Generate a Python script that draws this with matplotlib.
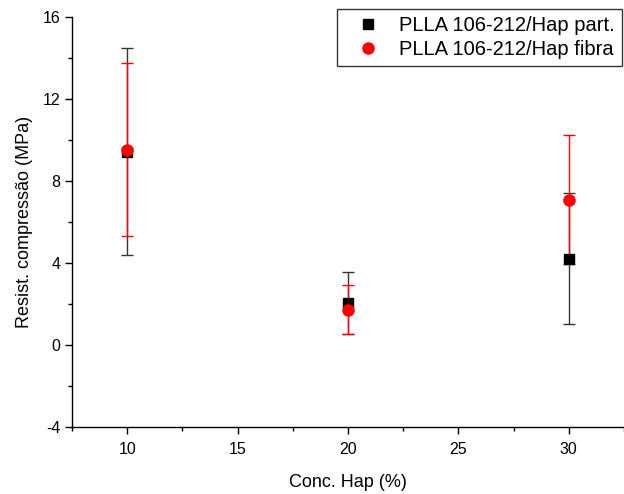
import matplotlib
matplotlib.use("Agg")
import matplotlib.pyplot as plt
from matplotlib.ticker import MultipleLocator

plt.rcParams['font.family'] = ['Liberation Sans', 'DejaVu Sans']
plt.rcParams['axes.unicode_minus'] = False

conc = [10, 20, 30]

# Hap particulada
part_mean = [9.43, 2.04, 4.21]
part_err = [5.04, 1.52, 3.20]

# Hap em fibra
fibra_mean = [9.53, 1.73, 7.09]
fibra_err = [4.23, 1.20, 3.15]

fig = plt.figure(figsize=(6.24, 4.94), dpi=100)
ax = fig.add_axes([0.1154, 0.1356, 0.8846, 0.83])

ax.errorbar(conc, part_mean, yerr=part_err, fmt='s', color='black', ecolor='#333333',
            markersize=7, elinewidth=1.0, capsize=4, capthick=1.0,
            label='PLLA 106-212/Hap part.')
ax.errorbar(conc, fibra_mean, yerr=fibra_err, fmt='o', color='red', ecolor='red',
            markersize=8, elinewidth=1.0, capsize=4, capthick=1.0,
            label='PLLA 106-212/Hap fibra')

ax.set_xlim(7.5, 32.5)
ax.set_ylim(-4, 16)
ax.xaxis.set_major_locator(MultipleLocator(5))
ax.xaxis.set_minor_locator(MultipleLocator(2.5))
ax.yaxis.set_major_locator(MultipleLocator(4))
ax.yaxis.set_minor_locator(MultipleLocator(2))

ax.spines['top'].set_visible(False)
ax.spines['right'].set_visible(False)
for s in ('left', 'bottom'):
    ax.spines[s].set_linewidth(1.0)

ax.tick_params(which='major', direction='out', length=5, width=1.0, labelsize=11.5)
ax.tick_params(axis='x', which='major', pad=6)
ax.tick_params(which='minor', direction='out', length=3, width=1.0)

ax.set_xlabel('Conc. Hap (%)', fontsize=13, labelpad=12)
ax.set_ylabel('Resist. compressão (MPa)', fontsize=13, labelpad=7)

# legenda só com marcadores, sem as barras de erro
handles, labels = ax.get_legend_handles_labels()
handles = [h[0] for h in handles]
leg = fig.legend(handles, labels, loc='upper right', bbox_to_anchor=(622 / 624, 1 - 9 / 494),
                 bbox_transform=fig.transFigure, borderaxespad=0,
                 fontsize=14.5, frameon=True, fancybox=False, edgecolor='black',
                 handlelength=2.4, handletextpad=0.35, borderpad=0.35, labelspacing=0.25)
leg.get_frame().set_linewidth(1.0)

fig.savefig('out.png', dpi=100)
